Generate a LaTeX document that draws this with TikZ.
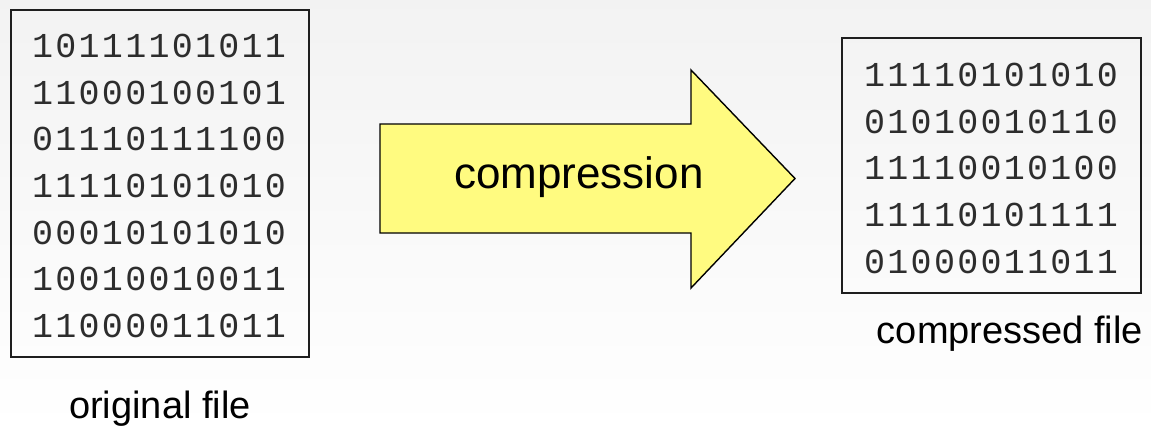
\documentclass[tikz,border=0pt]{standalone}
\usepackage{fontspec}
\setmainfont{Liberation Sans}
\newfontfamily\bitsfont[LetterSpace=6.5]{Liberation Mono}
\definecolor{arrowyellow}{RGB}{255,251,128}
\definecolor{inkgray}{RGB}{30,30,30}
\definecolor{bitgray}{RGB}{45,45,45}
\tikzset{
  filebox/.style={draw=inkgray, line width=1.5pt, rectangle, inner sep=0pt, anchor=north west},
  bits/.style={font=\bitsfont\fontsize{35}{46.6}\selectfont, text=bitgray, align=left, inner sep=0pt, anchor=north west},
  caption/.style={font=\fontsize{38}{42}\selectfont, text=black, inner sep=0pt, anchor=base},
  blockarrow/.style={draw=black, line width=1.4pt, fill=arrowyellow, line join=miter}
}
\begin{document}
\begin{tikzpicture}[x=1pt,y=-1pt]
  \shade[top color=black!5, bottom color=white] (0,0) rectangle (1151,429);
  \useasboundingbox (0,0) rectangle (1151,429);

  % original file
  \node[filebox, minimum width=298pt, minimum height=347pt] (orig) at (10,9) {};
  \node[bits] (origbits) at (32,34) {10111101011\\11000100101\\01110111100\\11110101010\\00010101010\\10010010011\\11000011011};
  \node[caption] (origlabel) at (160,418) {original file};

  % compression arrow
  \coordinate (a1) at (380,124);
  \coordinate (a2) at (691,124);
  \coordinate (a3) at (691,70);
  \coordinate (tip) at (795,178.5);
  \coordinate (a5) at (691,288);
  \coordinate (a6) at (691,233);
  \coordinate (a7) at (380,233);
  \draw[blockarrow] (a1) -- (a2) -- (a3) -- (tip) -- (a5) -- (a6) -- (a7) -- cycle;
  \node[caption, font=\fontsize{44}{48}\selectfont] (arrowlabel) at (579,188) {compression};

  % compressed file
  \node[filebox, minimum width=299pt, minimum height=255pt] (comp) at (841,37) {};
  \node[bits] (compbits) at (864,63) {11110101010\\01010010110\\11110010100\\11110101111\\01000011011};
  \node[caption] (complabel) at (1010,343) {compressed file};
\end{tikzpicture}
\end{document}
